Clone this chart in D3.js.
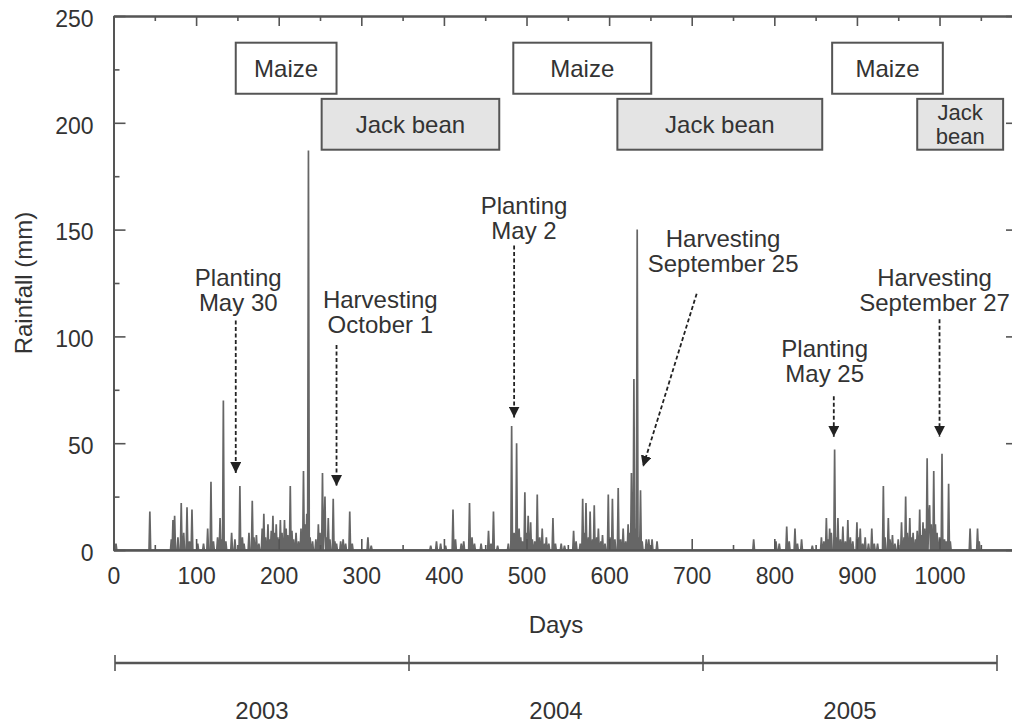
<!DOCTYPE html>
<html>
<head>
<meta charset="utf-8">
<script src="https://cdn.jsdelivr.net/npm/d3@7"></script>
<style>
  body { margin: 0; background: #fff; }
  text { font-family: "Liberation Sans", Arial, Helvetica, sans-serif; fill: #333; }
</style>
</head>
<body>
<svg id="chart" width="1012" height="723"></svg>
<script>
// Daily rainfall (mm) on days with rain, day counted from 1 January 2003.
const rain2003 = [
  [3,3],[44,18],[70,5],[72,14],[74,16],[78,6],[82,22],[85,8],[89,20],[92,4],[95,19],
  [102,3],[109,3],[114,10],[118,32],[121,4],[126,6],[129,15],[131,5],[133,70],[136,4],
  [143,8],[147,5],[153,30],[156,6],[158,3],[164,8],[168,23],[170,6],[173,7],[176,3],
  [180,10],[182,17],[184,6],[187,12],[189,5],[191,9],[193,16],[195,8],[197,12],[199,6],
  [202,14],[204,8],[207,14],[209,10],[211,7],[214,30],[216,9],[218,5],[221,8],[224,4],
  [227,10],[230,37],[232,12],[234,17],[236,187],[238,6],[241,4],[245,5],[248,12],[250,8],
  [253,36],[255,10],[256,25],[258,6],[260,15],[262,5],[266,24],[268,4],[270,3],[275,4],
  [278,5],[281,3],[286,18],[289,3],[308,6],[312,2]
];
const rain2004 = [
  [384,2],[391,4],[396,3],[402,2],[411,19],[414,5],[421,3],[424,4],[431,22],[434,6],
  [437,3],[445,3],[454,9],[457,3],[460,18],[465,2],[478,3],[482,58],[485,8],[488,50],
  [491,10],[493,6],[495,4],[498,27],[500,8],[502,16],[505,13],[507,5],[510,4],[513,26],
  [516,6],[519,10],[522,3],[524,6],[527,3],[532,15],[535,3],[542,3],[546,2],[557,9],
  [560,4],[565,3],[568,24],[570,8],[572,22],[575,6],[577,18],[580,5],[582,21],[585,6],
  [587,10],[590,4],[592,7],[595,3],[599,26],[601,6],[604,24],[607,5],[611,29],[614,5],
  [617,10],[620,4],[623,12],[625,8],[627,36],[630,80],[632,10],[634,150],[636,6],[638,28],
  [640,4],[645,5],[648,5],[652,5],[658,4]
];
const rain2005 = [
  [775,5],[802,4],[806,3],[815,11],[818,4],[825,10],[828,3],[833,5],[846,2],[857,6],
  [860,4],[863,15],[865,5],[867,10],[869,8],[873,47],[875,6],[877,15],[880,5],[883,11],
  [886,4],[889,14],[892,6],[895,4],[900,13],[902,6],[904,10],[907,3],[910,6],[914,3],
  [918,10],[921,3],[925,3],[932,30],[934,6],[938,15],[940,5],[943,7],[946,3],[950,5],
  [954,13],[957,6],[959,25],[961,8],[964,15],[966,6],[968,8],[971,5],[973,9],[976,19],
  [978,7],[980,13],[982,10],[985,43],[987,15],[988,21],[990,12],[993,37],[995,12],[997,8],
  [1000,6],[1003,45],[1006,5],[1008,4],[1011,31],[1013,4],[1037,10],[1046,10],[1048,4]
];

// Crop seasons: [label lines, first day, last day]
const maizeSeasons = [[["Maize"],148,270],[["Maize"],484,651],[["Maize"],870,1004]];
const jackBeanSeasons = [[["Jack bean"],252,467],[["Jack bean"],610,858],[["Jack","bean"],973,1077]];

// Planting / harvesting notes: text, label centre (day, mm), arrow start and tip (day, mm)
const eventNotes = [
  { lines:["Planting","May 30"],          lx:151, ly:127.8, x1:148, y1:107.5, x2:148, y2:36 },
  { lines:["Harvesting","October 1"],     lx:323, ly:117.5, x1:270, y1:96,    x2:270, y2:30 },
  { lines:["Planting","May 2"],           lx:497, ly:161.5, x1:485, y1:142.5, x2:485, y2:62 },
  { lines:["Harvesting","September 25"],  lx:738, ly:146,   x1:706, y1:120,   x2:641, y2:39 },
  { lines:["Planting","May 25"],          lx:861, ly:94.6,  x1:872, y1:72,    x2:872, y2:53 },
  { lines:["Harvesting","September 27"],  lx:994, ly:127.8, x1:1000, y1:108, x2:1000, y2:53 }
];

const yMajor = [0, 50, 100, 150, 200, 250];
const yMinor = [25, 75, 125, 175, 225];
const xMajor = [0, 100, 200, 300, 400, 500, 600, 700, 800, 900, 1000];
const xMinor = [50, 150, 250, 350, 450, 550, 650, 750, 850, 950, 1050];
const years = ["2003", "2004", "2005"];

const svg = d3.select("#chart");
const tickFont = 23;
const labelFont = 24;

const x = d3.scaleLinear().domain([0, 1095]).range([113.5, 1018]);
const y = d3.scaleLinear().domain([0, 250]).range([550, 16]);

// daily series: zero on dry days
const rainMap = new Map([...rain2003, ...rain2004, ...rain2005]);
const daily = d3.range(0, 1096).map(d => [d, rainMap.get(d) || 0]);

// rainfall trace
svg.append("path")
  .datum(daily)
  .attr("fill", "none")
  .attr("stroke", "#666")
  .attr("stroke-width", 1.7)
  .attr("stroke-linejoin", "miter")
  .attr("d", d3.line().x(d => x(d[0])).y(d => y(d[1])));

// frame with inward ticks on all four sides
function styleAxis(g) {
  g.selectAll("path.domain").attr("stroke", "#555").attr("stroke-width", 2);
  g.selectAll(".tick line").attr("stroke", "#555").attr("stroke-width", 1.6);
  g.selectAll(".tick text").attr("font-size", tickFont).attr("fill", "#333")
    .style("font-family", "'Liberation Sans', Arial, sans-serif");
}
const left = svg.append("g").attr("transform", `translate(${x(0)},0)`)
  .call(d3.axisLeft(y).tickValues(yMajor).tickSize(-12).tickSizeOuter(0).tickPadding(20))
  .call(styleAxis);
left.selectAll(".tick text").attr("dy", "0.45em");
svg.append("g").attr("transform", `translate(${x(0)},0)`)
  .call(d3.axisLeft(y).tickValues(yMinor).tickSize(-6).tickSizeOuter(0).tickFormat(""))
  .call(styleAxis);
svg.append("g").attr("transform", `translate(${x(1095)},0)`)
  .call(d3.axisRight(y).tickValues(yMajor).tickSize(-12).tickSizeOuter(0).tickFormat(""))
  .call(styleAxis);
svg.append("g").attr("transform", `translate(${x(1095)},0)`)
  .call(d3.axisRight(y).tickValues(yMinor).tickSize(-6).tickSizeOuter(0).tickFormat(""))
  .call(styleAxis);
svg.append("g").attr("transform", `translate(0,${y(0)})`)
  .call(d3.axisBottom(x).tickValues(xMajor).tickSize(-11).tickSizeOuter(0)
    .tickPadding(18).tickFormat(d3.format("d")))
  .call(styleAxis);
svg.append("g").attr("transform", `translate(0,${y(0)})`)
  .call(d3.axisBottom(x).tickValues(xMinor).tickSize(-5).tickSizeOuter(0).tickFormat(""))
  .call(styleAxis);
svg.append("g").attr("transform", `translate(0,${y(250)})`)
  .call(d3.axisTop(x).tickValues(xMajor).tickSize(-10).tickSizeOuter(0).tickFormat(""))
  .call(styleAxis);
svg.append("g").attr("transform", `translate(0,${y(250)})`)
  .call(d3.axisTop(x).tickValues(xMinor).tickSize(-5).tickSizeOuter(0).tickFormat(""))
  .call(styleAxis);

// axis titles
svg.append("text")
  .attr("transform", `translate(24,${(y(0) + y(250)) / 2}) rotate(-90)`)
  .attr("text-anchor", "middle").attr("dy", "0.35em")
  .attr("font-size", labelFont).text("Rainfall (mm)");

// season boxes
function drawSeasons(list, top, bottom, fill) {
  const g = svg.append("g");
  list.forEach(([lines, a, b]) => {
    g.append("rect")
      .attr("x", x(a)).attr("y", y(top))
      .attr("width", x(b) - x(a)).attr("height", y(bottom) - y(top))
      .attr("fill", fill).attr("stroke", "#555").attr("stroke-width", 2);
    const cy = (y(top) + y(bottom)) / 2;
    const size = lines.length > 1 ? 22 : labelFont;
    lines.forEach((ln, i) => {
      g.append("text").attr("text-anchor", "middle").attr("font-size", size)
        .attr("x", (x(a) + x(b)) / 2)
        .attr("y", cy + (i - (lines.length - 1) / 2) * 23.5)
        .attr("dy", "0.36em").text(ln);
    });
  });
}
drawSeasons(maizeSeasons, 237.5, 213.6, "#fff");
drawSeasons(jackBeanSeasons, 211.2, 187.4, "#e4e4e4");

// planting / harvesting arrows
const defs = svg.append("defs");
defs.append("marker")
  .attr("id", "tip").attr("markerUnits", "userSpaceOnUse")
  .attr("viewBox", "0 0 10 10").attr("refX", 10).attr("refY", 5)
  .attr("markerWidth", 11).attr("markerHeight", 11).attr("orient", "auto")
  .append("path").attr("d", "M0,0 L10,5 L0,10 Z").attr("fill", "#222");

const notes = svg.append("g");
eventNotes.forEach(n => {
  notes.append("line")
    .attr("x1", x(n.x1)).attr("y1", y(n.y1))
    .attr("x2", x(n.x2)).attr("y2", y(n.y2))
    .attr("stroke", "#222").attr("stroke-width", 1.8)
    .attr("stroke-dasharray", "4,2.5")
    .attr("marker-end", "url(#tip)");
  const t = notes.append("text").attr("text-anchor", "middle").attr("font-size", labelFont);
  n.lines.forEach((ln, i) => {
    t.append("tspan").attr("x", x(n.lx)).attr("y", y(n.ly) + i * 25.5)
      .attr("dy", "0.36em").text(ln);
  });
});

// days title and calendar-year strip
const strip = d3.scaleLinear().domain([0, 3]).range([115, 997]);
svg.append("text")
  .attr("x", strip(1.5)).attr("y", 624).attr("dy", "0.36em")
  .attr("text-anchor", "middle").attr("font-size", labelFont).text("Days");

const stripY = 663;
svg.append("line")
  .attr("x1", strip(0)).attr("x2", strip(3)).attr("y1", stripY).attr("y2", stripY)
  .attr("stroke", "#555").attr("stroke-width", 2.6);
svg.selectAll("line.year-tick").data(d3.range(0, 4)).join("line")
  .attr("class", "year-tick")
  .attr("x1", d => strip(d)).attr("x2", d => strip(d))
  .attr("y1", stripY - 8).attr("y2", stripY + 8)
  .attr("stroke", "#555").attr("stroke-width", 1.6);
svg.selectAll("text.year").data(years).join("text")
  .attr("class", "year")
  .attr("x", (d, i) => strip(i + 0.5)).attr("y", 710).attr("dy", "0.36em")
  .attr("text-anchor", "middle").attr("font-size", labelFont).text(d => d);
</script>
</body>
</html>
